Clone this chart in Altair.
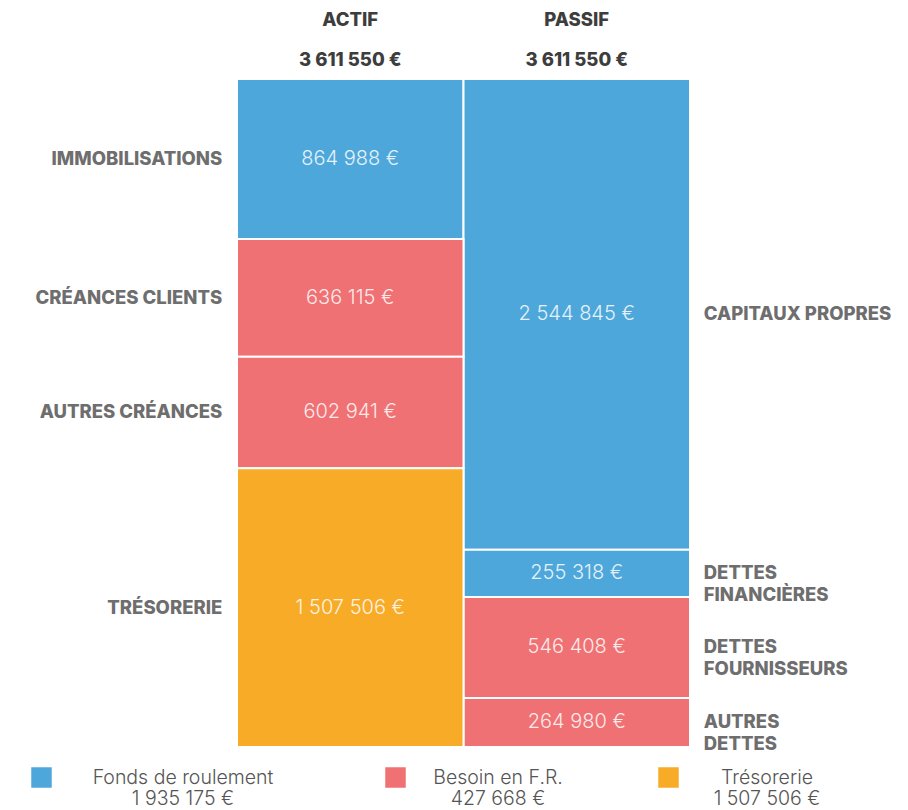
import altair as alt
import pandas as pd

columns = ["ACTIF", "PASSIF"]
column_totals = [3611550, 3611550]

actif_items = ["IMMOBILISATIONS", "CRÉANCES CLIENTS", "AUTRES CRÉANCES", "TRÉSORERIE"]
actif_values = [864988, 636115, 602941, 1507506]
actif_types = ["Fonds de roulement", "Besoin en F.R.", "Besoin en F.R.", "Trésorerie"]

passif_items = ["CAPITAUX PROPRES", "DETTES\nFINANCIÈRES", "DETTES\nFOURNISSEURS", "AUTRES\nDETTES"]
passif_values = [2544845, 255318, 546408, 264980]
passif_types = ["Fonds de roulement", "Fonds de roulement", "Besoin en F.R.", "Besoin en F.R."]

legend_items = ["Fonds de roulement", "Besoin en F.R.", "Trésorerie"]
legend_values = [1935175, 427668, 1507506]
legend_colors = ["#4ea7db", "#ef7174", "#f8ab27"]


def eur(v):
    return f"{v:,}".replace(",", " ") + " €"


rows = []
for col, items, vals, types in [
    ("ACTIF", actif_items, actif_values, actif_types),
    ("PASSIF", passif_items, passif_values, passif_types),
]:
    start = 0
    for it, v, t in zip(items, vals, types):
        rows.append(dict(column=col, item=it, value=v, type=t,
                         start=start, end=start + v, label=eur(v)))
        start += v
seg = pd.DataFrame(rows)

head = pd.DataFrame({"column": columns, "total": [eur(v) for v in column_totals]})

BOLD = "Inter"
LIGHT = "Inter"
BSIZE = 18.5

x = alt.X("column:N", scale=alt.Scale(domain=columns, paddingInner=0, paddingOuter=0), axis=None)
yscale = alt.Scale(domain=[0, max(column_totals)], reverse=True, nice=False, zero=True)

legend_x = [-206, 148, 421]
legend_off = [131, 92, 88]

layers = []
for t, c, lv, lx, lo in zip(legend_items, legend_colors, legend_values, legend_x, legend_off):
    layers.append(
        alt.Chart(seg).transform_filter(alt.datum.type == t)
        .mark_rect(stroke="white", strokeWidth=2)
        .encode(
            x=x,
            y=alt.Y("start:Q", scale=yscale, axis=None),
            y2="end:Q",
            color=alt.Color("type:N", scale=alt.Scale(domain=[t], range=[c]),
                            legend=alt.Legend(
                                orient="none", legendX=lx, legendY=688, title=None,
                                symbolType="square", symbolSize=420, symbolStrokeWidth=0,
                                symbolOpacity=1,
                                labelFont=LIGHT, labelFontWeight=300, labelFontSize=19.5,
                                labelColor="#555555", labelAlign="center", labelOffset=lo,
                                labelLimit=400, labelBaseline="middle",
                                labelExpr=f"[datum.label, '{eur(lv)}']",
                            )),
        )
    )

base_txt = alt.Chart(seg).transform_calculate(mid="(datum.start + datum.end) / 2")

values_txt = base_txt.mark_text(
    font=LIGHT, fontWeight=300, fontSize=20, color="white", opacity=0.85, baseline="middle"
).encode(x=x, y=alt.Y("mid:Q", scale=yscale, axis=None), text="label:N")

actif_lbl = base_txt.transform_filter(alt.datum.column == "ACTIF").mark_text(
    font=BOLD, fontWeight=800, fontSize=BSIZE, color="#6e6e6e", align="right",
    baseline="middle", dx=-128, lineBreak="\n", lineHeight=22
).encode(x=x, y=alt.Y("mid:Q", scale=yscale, axis=None), text="item:N")

passif_lbl = base_txt.transform_filter(alt.datum.column == "PASSIF").mark_text(
    font=BOLD, fontWeight=800, fontSize=BSIZE, color="#6e6e6e", align="left",
    baseline="middle", dx=127, lineBreak="\n", lineHeight=22
).encode(x=x, y=alt.Y("mid:Q", scale=yscale, axis=None), text="item:N")

head1 = alt.Chart(head).mark_text(
    font=BOLD, fontWeight=800, fontSize=BSIZE, color="#3d3d3d", baseline="middle"
).encode(x=x, y=alt.value(-59), text="column:N")

head2 = alt.Chart(head).mark_text(
    font=BOLD, fontWeight=800, fontSize=BSIZE, color="#3d3d3d", baseline="middle"
).encode(x=x, y=alt.value(-19), text="total:N")

chart = alt.layer(*layers, values_txt, actif_lbl, passif_lbl, head1, head2).resolve_scale(
    color="independent"
).properties(
    width=453, height=668, autosize="none",
    padding={"left": 229, "top": 71, "right": 210, "bottom": 60},
).configure_view(stroke=None)

chart.save("out.html", embed_options={"renderer": "svg", "actions": False})
